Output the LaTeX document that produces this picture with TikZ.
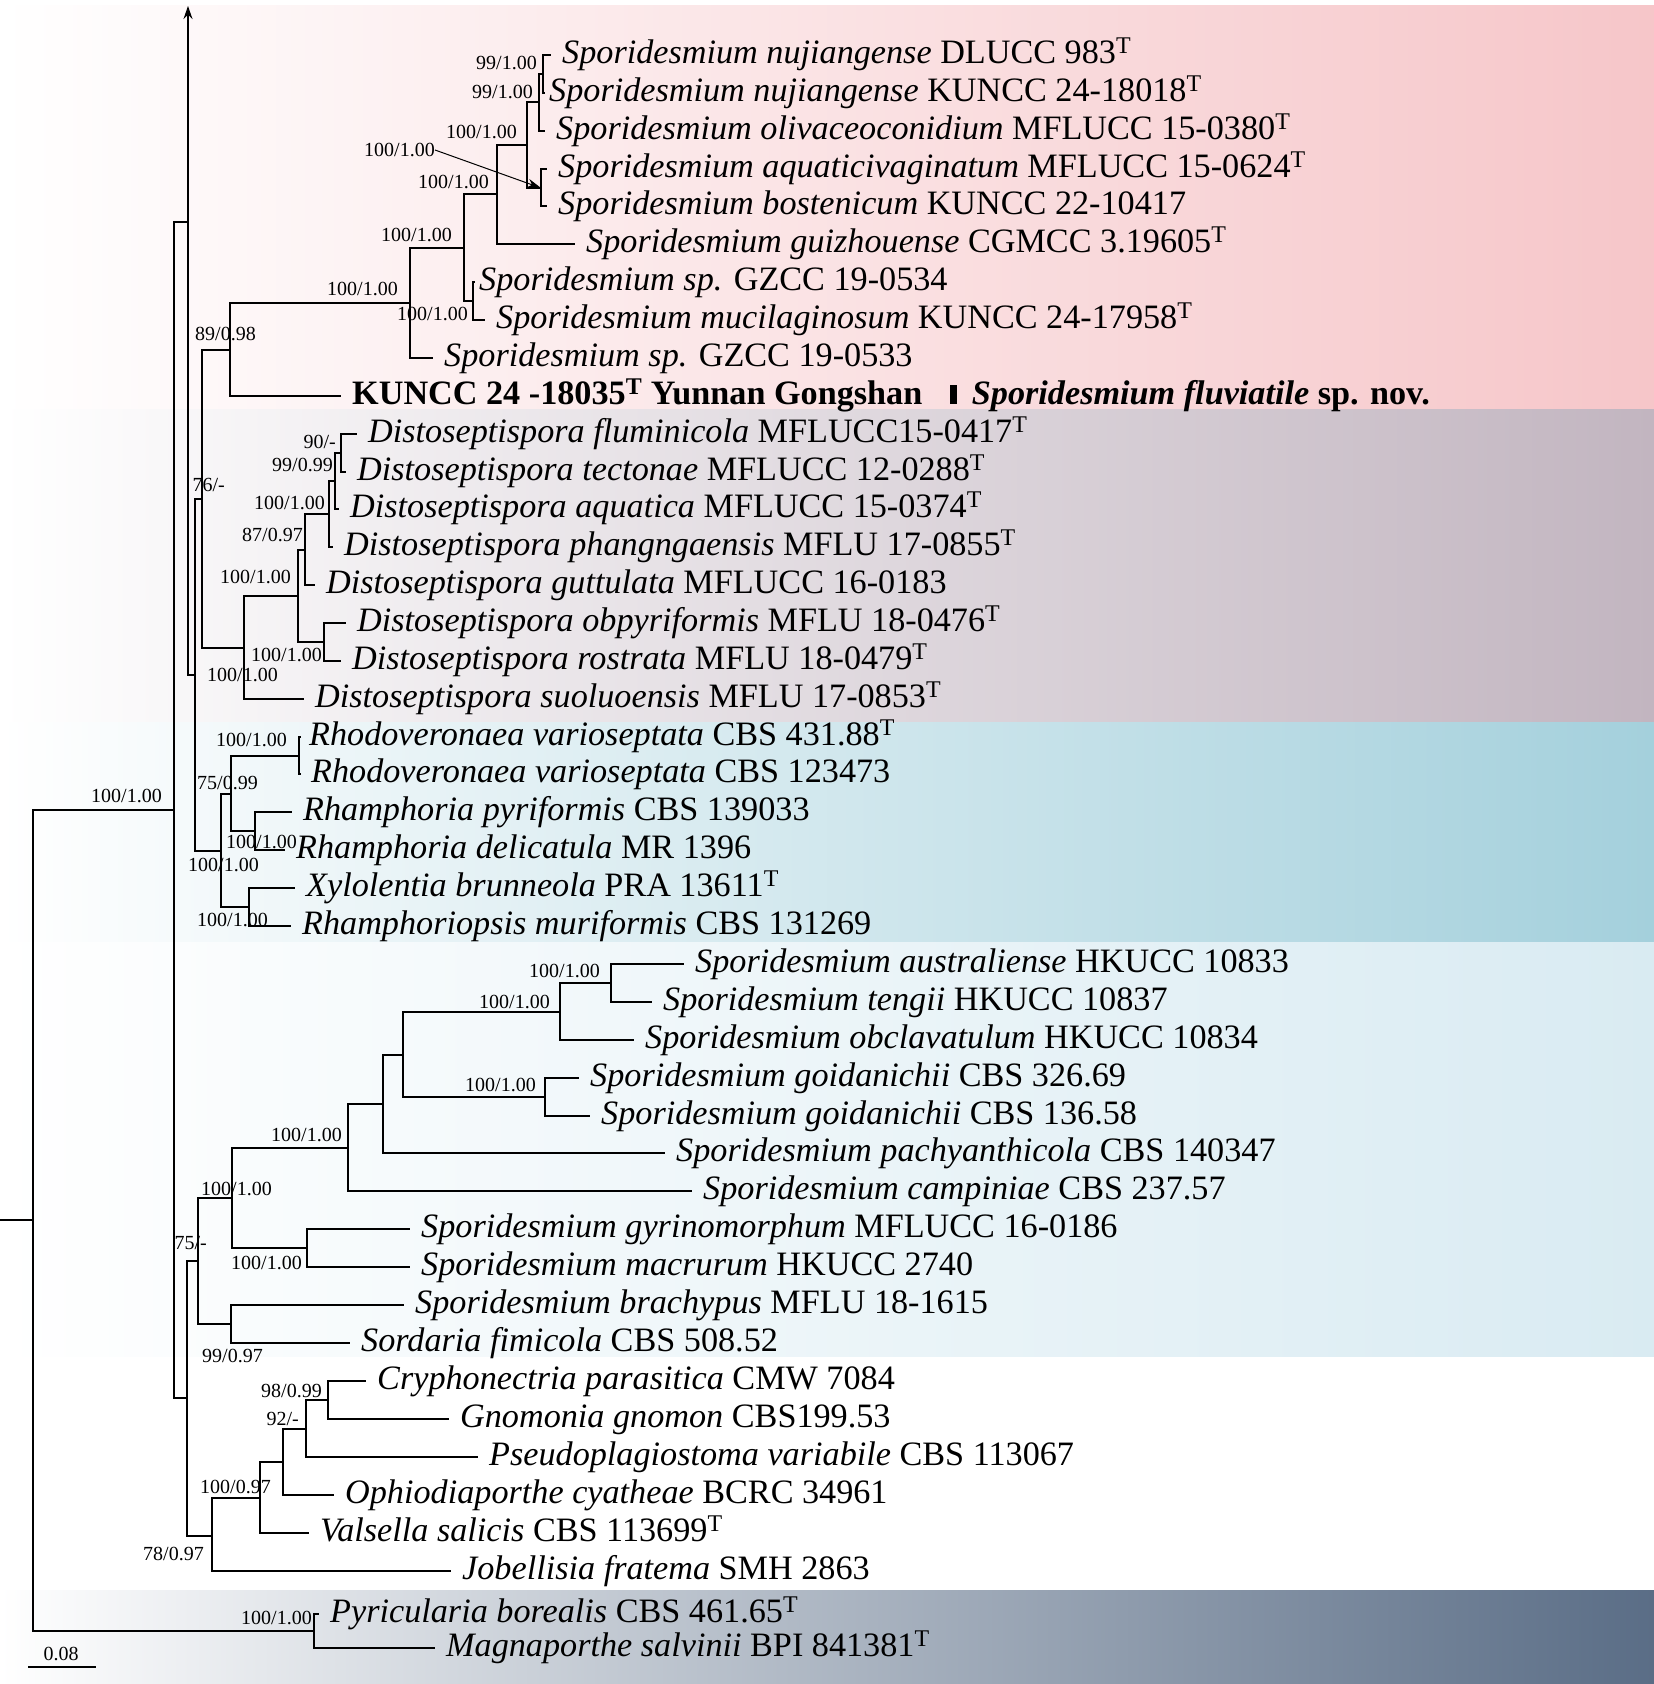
\documentclass[tikz,border=0pt]{standalone}
\usepackage{fontspec}
\setmainfont{Liberation Serif}
\usetikzlibrary{arrows.meta}
\definecolor{bandpink}{HTML}{F6C6C9}
\definecolor{bandmauve}{HTML}{C2B5C0}
\definecolor{bandteal}{HTML}{A4D0DC}
\definecolor{bandblue}{HTML}{D9EBF2}
\definecolor{bandslate}{HTML}{5A6D86}
\newcommand{\taxfont}{\fontsize{34.2}{40}\selectfont}
\newcommand{\suppfont}{\fontsize{20}{24}\selectfont}
\newcommand{\typ}{\textsuperscript{T}}

\begin{document}
\begin{tikzpicture}[
    x=1pt, y=-1pt,
    branch/.style={draw, line width=1.1pt, line cap=rect},
    taxon/.style={anchor=west, inner xsep=12pt, inner ysep=0pt, font=\taxfont, execute at begin node=\strut},
    support/.style={anchor=east, inner sep=0pt, font=\suppfont}
]
    \fill[white] (0,0) rectangle (1654,1684);
    \useasboundingbox (0,0) rectangle (1654,1684);
    \shade[left color=white, right color=bandpink] (0,5) rectangle (1654,409);
    \shade[left color=white, right color=bandmauve] (0,409) rectangle (1654,722);
    \shade[left color=white, right color=bandteal] (0,722) rectangle (1654,942);
    \shade[left color=white, right color=bandblue] (0,942) rectangle (1654,1356);
    \shade[left color=white, right color=bandslate] (0,1590) rectangle (1654,1684);

    \coordinate (stub) at (0,1220);
    \coordinate (root) at (33,1220);
    \coordinate (nL) at (174,810);
    \coordinate (nK) at (188,222);
    \coordinate (ktop) at (188,6);
    \coordinate (nJ) at (195,675);
    \coordinate (nI) at (202,499);
    \coordinate (nH) at (230,350);
    \coordinate (nG) at (410,303);
    \coordinate (nE) at (464,248);
    \coordinate (nF) at (473,301);
    \coordinate (nD) at (497,194);
    \coordinate (nC) at (527,145);
    \coordinate (nB) at (539,102);
    \coordinate (nA) at (543,74);
    \coordinate (nC45) at (541,188);
    \coordinate (nDf) at (244,648);
    \coordinate (nDe) at (298,596);
    \coordinate (nDd) at (305,550);
    \coordinate (nDc) at (329,514);
    \coordinate (nDb) at (335,481);
    \coordinate (nDa) at (341,453);
    \coordinate (nD17) at (324,642);
    \coordinate (nR0) at (221,851);
    \coordinate (nR2) at (231,794);
    \coordinate (nR1) at (299,756);
    \coordinate (nR3) at (255,831);
    \coordinate (nR4) at (249,907);
    \coordinate (nS8) at (187,1398);
    \coordinate (nS7) at (198,1261);
    \coordinate (nS6) at (232,1198);
    \coordinate (nS5) at (348,1148);
    \coordinate (nS4) at (383,1104);
    \coordinate (nS3) at (403,1055);
    \coordinate (nS2) at (560,1012);
    \coordinate (nS1) at (611,983);
    \coordinate (nS28) at (545,1097);
    \coordinate (nS32) at (307,1248);
    \coordinate (nS34) at (231,1324);
    \coordinate (nP41) at (212,1536);
    \coordinate (nP40) at (260,1498);
    \coordinate (nP39) at (283,1462);
    \coordinate (nP38) at (306,1429);
    \coordinate (nP36) at (328,1400);
    \coordinate (nO) at (314,1631);

    \node[taxon] (t1) at (550,55) {\textit{Sporidesmium nujiangense} DLUCC 983\typ};
    \node[taxon, inner xsep=5pt] (t2) at (544,93) {\textit{Sporidesmium nujiangense} KUNCC 24-18018\typ};
    \node[taxon] (t3) at (544,131) {\textit{Sporidesmium olivaceoconidium} MFLUCC 15-0380\typ};
    \node[taxon] (t4) at (546,169) {\textit{Sporidesmium aquaticivaginatum} MFLUCC 15-0624\typ};
    \node[taxon] (t5) at (546,206) {\textit{Sporidesmium bostenicum} KUNCC 22-10417};
    \node[taxon] (t6) at (574,244) {\textit{Sporidesmium guizhouense} CGMCC 3.19605\typ};
    \node[taxon, inner xsep=5pt] (t7) at (474,282) {\textit{Sporidesmium sp.} GZCC 19-0534};
    \node[taxon] (t8) at (484,320) {\textit{Sporidesmium mucilaginosum} KUNCC 24-17958\typ};
    \node[taxon] (t9) at (432,358) {\textit{Sporidesmium sp.} GZCC 19-0533};
    \node[taxon] (t10) at (340,396) {\textbf{KUNCC 24 -18035\typ{} Yunnan Gongshan}\hspace{0.8em}\rule{0.2em}{0.55em}\hspace{0.45em}\textbf{\textit{Sporidesmium fluviatile} sp. nov.}};
    \node[taxon] (t11) at (356,434) {\textit{Distoseptispora fluminicola} MFLUCC15-0417\typ};
    \node[taxon] (t12) at (345,472) {\textit{Distoseptispora tectonae} MFLUCC 12-0288\typ};
    \node[taxon] (t13) at (338,509) {\textit{Distoseptispora aquatica} MFLUCC 15-0374\typ};
    \node[taxon] (t14) at (332,547) {\textit{Distoseptispora phangngaensis} MFLU 17-0855\typ};
    \node[taxon] (t15) at (314,585) {\textit{Distoseptispora guttulata} MFLUCC 16-0183};
    \node[taxon] (t16) at (345,623) {\textit{Distoseptispora obpyriformis} MFLU 18-0476\typ};
    \node[taxon] (t17) at (340,661) {\textit{Distoseptispora rostrata} MFLU 18-0479\typ};
    \node[taxon] (t18) at (303,699) {\textit{Distoseptispora suoluoensis} MFLU 17-0853\typ};
    \node[taxon, inner xsep=9pt] (t19) at (300,737) {\textit{Rhodoveronaea varioseptata} CBS 431.88\typ};
    \node[taxon, inner xsep=11pt] (t20) at (300,774) {\textit{Rhodoveronaea varioseptata} CBS 123473};
    \node[taxon] (t21) at (291,812) {\textit{Rhamphoria pyriformis} CBS 139033};
    \node[taxon] (t22) at (284,850) {\textit{Rhamphoria delicatula} MR 1396};
    \node[taxon] (t23) at (294,888) {\textit{Xylolentia brunneola} PRA 13611\typ};
    \node[taxon] (t24) at (290,926) {\textit{Rhamphoriopsis muriformis} CBS 131269};
    \node[taxon] (t25) at (683,964) {\textit{Sporidesmium australiense} HKUCC 10833};
    \node[taxon] (t26) at (651,1002) {\textit{Sporidesmium tengii} HKUCC 10837};
    \node[taxon] (t27) at (633,1040) {\textit{Sporidesmium obclavatulum} HKUCC 10834};
    \node[taxon] (t28) at (578,1078) {\textit{Sporidesmium goidanichii} CBS 326.69};
    \node[taxon] (t29) at (589,1116) {\textit{Sporidesmium goidanichii} CBS 136.58};
    \node[taxon] (t30) at (664,1153) {\textit{Sporidesmium pachyanthicola} CBS 140347};
    \node[taxon] (t31) at (691,1191) {\textit{Sporidesmium campiniae} CBS 237.57};
    \node[taxon] (t32) at (409,1229) {\textit{Sporidesmium gyrinomorphum} MFLUCC 16-0186};
    \node[taxon] (t33) at (409,1267) {\textit{Sporidesmium macrurum} HKUCC 2740};
    \node[taxon] (t34) at (403,1305) {\textit{Sporidesmium brachypus} MFLU 18-1615};
    \node[taxon] (t35) at (349,1343) {\textit{Sordaria fimicola} CBS 508.52};
    \node[taxon] (t36) at (365,1381) {\textit{Cryphonectria parasitica} CMW 7084};
    \node[taxon] (t37) at (448,1419) {\textit{Gnomonia gnomon} CBS199.53};
    \node[taxon] (t38) at (477,1457) {\textit{Pseudoplagiostoma variabile} CBS 113067};
    \node[taxon] (t39) at (333,1495) {\textit{Ophiodiaporthe cyatheae} BCRC 34961};
    \node[taxon] (t40) at (308,1533) {\textit{Valsella salicis} CBS 113699\typ};
    \node[taxon] (t41) at (450,1571) {\textit{Jobellisia fratema} SMH 2863};
    \node[taxon] (t42) at (318,1614) {\textit{Pyricularia borealis} CBS 461.65\typ};
    \node[taxon] (t43) at (434,1648) {\textit{Magnaporthe salvinii} BPI 841381\typ};

    \draw[branch] (stub) -- (root);
    \draw[branch, -{Stealth[length=13pt, width=9pt]}] (nK) -- (ktop);
    \foreach \p/\c in {root/nL, root/nO, nL/nK, nL/nS8, nK/nJ, nJ/nI, nJ/nR0,
        nI/nH, nI/nDf, nH/nG, nH/t10, nG/nE, nG/t9, nE/nD, nE/nF, nF/t7, nF/t8,
        nD/nC, nD/t6, nC/nB, nC/nC45, nB/nA, nB/t3, nA/t1, nA/t2, nC45/t4, nC45/t5,
        nDf/nDe, nDf/t18, nDe/nDd, nDe/nD17, nDd/nDc, nDd/t15, nDc/nDb, nDc/t14,
        nDb/nDa, nDb/t13, nDa/t11, nDa/t12, nD17/t16, nD17/t17,
        nR0/nR2, nR0/nR4, nR2/nR1, nR2/nR3, nR1/t19, nR1/t20, nR3/t21, nR3/t22,
        nR4/t23, nR4/t24,
        nS8/nS7, nS8/nP41, nS7/nS6, nS7/nS34, nS6/nS5, nS6/nS32, nS5/nS4, nS5/t31,
        nS4/nS3, nS4/t30, nS3/nS2, nS3/nS28, nS2/nS1, nS2/t27, nS1/t25, nS1/t26,
        nS28/t28, nS28/t29, nS32/t32, nS32/t33, nS34/t34, nS34/t35,
        nP41/nP40, nP41/t41, nP40/nP39, nP40/t40, nP39/nP38, nP39/t39,
        nP38/nP36, nP38/t38, nP36/t36, nP36/t37, nO/t42, nO/t43}
        \draw[branch] (\p) |- (\c);

    \node[support] (sA) at (537,63) {99/1.00};
    \node[support] (sB) at (533,92) {99/1.00};
    \node[support] (sC) at (517,132) {100/1.00};
    \node[support] (sC45) at (435,150) {100/1.00};
    \node[support] (sD) at (489,182) {100/1.00};
    \node[support] (sE) at (452,235) {100/1.00};
    \node[support] (sF) at (468,314) {100/1.00};
    \node[support] (sG) at (398,289) {100/1.00};
    \node[support] (sH) at (256,334) {89/0.98};
    \node[support] (sI) at (225,485) {76/-};
    \node[support] (sDa) at (336,442) {90/-};
    \node[support] (sDb) at (333,465) {99/0.99};
    \node[support] (sDc) at (325,503) {100/1.00};
    \node[support] (sDd) at (303,535) {87/0.97};
    \node[support] (sDe) at (291,577) {100/1.00};
    \node[support] (sD17) at (322,655) {100/1.00};
    \node[support] (sDf) at (278,675) {100/1.00};
    \node[support] (sR1) at (287,740) {100/1.00};
    \node[support] (sR2) at (258,783) {75/0.99};
    \node[support] (sR3) at (297,842) {100/1.00};
    \node[support] (sR0) at (259,865) {100/1.00};
    \node[support] (sR4) at (268,920) {100/1.00};
    \node[support] (sL) at (162,796) {100/1.00};
    \node[support] (sS1) at (600,971) {100/1.00};
    \node[support] (sS2) at (550,1002) {100/1.00};
    \node[support] (sS28) at (536,1085) {100/1.00};
    \node[support] (sS5) at (342,1135) {100/1.00};
    \node[support] (sS6) at (272,1189) {100/1.00};
    \node[support] (sS7) at (207,1243) {75/-};
    \node[support] (sS32) at (302,1263) {100/1.00};
    \node[support] (sS34) at (263,1356) {99/0.97};
    \node[support] (sP36) at (322,1391) {98/0.99};
    \node[support] (sP38) at (299,1419) {92/-};
    \node[support] (sP40) at (271,1487) {100/0.97};
    \node[support] (sP41) at (204,1554) {78/0.97};
    \node[support] (sO) at (312,1618) {100/1.00};
    \draw[line width=1pt, -{Stealth[length=14pt, width=9pt]}] (sC45.east) -- (nC45);

    \coordinate (bar1) at (29,1667);
    \coordinate (bar2) at (95,1667);
    \draw[branch] (bar1) -- (bar2);
    \node[font=\suppfont, inner sep=0pt] (barlab) at (61,1654) {0.08};
\end{tikzpicture}
\end{document}
